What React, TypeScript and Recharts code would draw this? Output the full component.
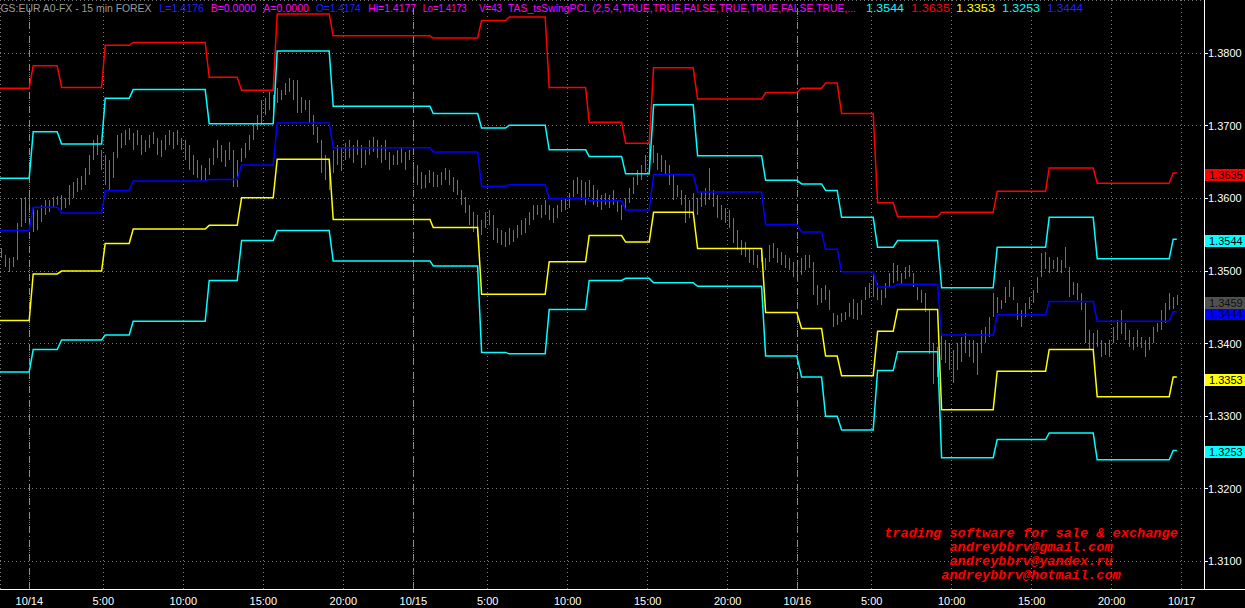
import React from 'react';
import { ComposedChart, Line, Bar, XAxis, YAxis, CartesianGrid, ReferenceLine } from 'recharts';

// x unit = one 15 min bar slot
const timeTicks = [7.33, 25.83, 45.83, 65.83, 85.83, 103.33, 121.92, 141.92, 161.92, 181.92, 199.33, 217.92, 237.92, 257.92, 277.92, 295.42];
const timeLabels = ['10/14', '5:00', '10:00', '15:00', '20:00', '10/15', '5:00', '10:00', '15:00', '20:00', '10/16', '5:00', '10:00', '15:00', '20:00', '10/17'];
const daySeparators = [7.33, 103.33, 199.33];
const priceTicks = [1.31, 1.32, 1.33, 1.34, 1.35, 1.36, 1.37, 1.38];

// swing channel lines, [bar, price]
const upperRed = [
  [0, 1.3752], [7.3, 1.3752], [8.3, 1.3783], [14.3, 1.3783], [15.4, 1.3753], [25.4, 1.3753], [26.3, 1.3811], [32.3, 1.3811],
  [33.3, 1.3815], [51.3, 1.3815], [52.3, 1.3767], [59.3, 1.3767], [60.4, 1.3749], [68.3, 1.3749], [69.3, 1.3854], [82.3, 1.3854],
  [83.3, 1.3824], [107.5, 1.3824], [108.3, 1.3821], [119.4, 1.3821], [120.4, 1.3845], [126.4, 1.3845], [127.3, 1.385], [136.3, 1.385],
  [137.3, 1.3753], [146.4, 1.3753], [147.3, 1.3705], [155.4, 1.3705], [156.4, 1.3676], [162.3, 1.3676], [163.4, 1.378], [173.3, 1.378],
  [174.4, 1.3737], [190.4, 1.3737], [191.4, 1.3746], [199.2, 1.3746], [200.4, 1.3752], [205.4, 1.3752], [206.4, 1.3759], [209.3, 1.3759],
  [210.4, 1.3717], [218.3, 1.3717], [219.4, 1.3594], [223.3, 1.3594], [224.4, 1.3575], [234.4, 1.3575], [235.4, 1.3581], [248.3, 1.3581],
  [249.3, 1.361], [261.4, 1.361], [262.3, 1.3642], [273.3, 1.3642], [274.3, 1.3621], [292.3, 1.3621], [293.3, 1.3635], [294.2, 1.3635],
];
const upperCyan = [
  [0, 1.3628], [7.3, 1.3628], [8.3, 1.3692], [14.3, 1.3692], [15.4, 1.3675], [25.4, 1.3675], [26.3, 1.3738], [32.3, 1.3738],
  [33.3, 1.375], [51.3, 1.375], [52.3, 1.3703], [68.3, 1.3703], [69.3, 1.3803], [82.3, 1.3803], [83.3, 1.3727], [107.5, 1.3727],
  [108.3, 1.3717], [119.4, 1.3717], [120.4, 1.3697], [126.4, 1.3697], [127.3, 1.3701], [136.3, 1.3701], [137.3, 1.3667], [146.4, 1.3667],
  [147.3, 1.3658], [155.4, 1.3658], [156.4, 1.3634], [162.3, 1.3634], [163.4, 1.3729], [173.3, 1.3729], [174.4, 1.3659], [190.4, 1.3659],
  [191.4, 1.3625], [199.2, 1.3625], [200.4, 1.362], [205.4, 1.362], [206.4, 1.3611], [209.3, 1.3611], [210.4, 1.3574], [218.3, 1.3574],
  [219.4, 1.3533], [223.3, 1.3533], [224.4, 1.3542], [234.4, 1.3542], [235.4, 1.3477], [248.3, 1.3477], [249.3, 1.3533], [261.4, 1.3533],
  [262.3, 1.3574], [273.3, 1.3574], [274.3, 1.3517], [292.3, 1.3517], [293.3, 1.3544], [294.2, 1.3544],
];
const pivotBlue = [
  [0, 1.3556], [7.3, 1.3556], [8.3, 1.3588], [14.3, 1.3588], [15.4, 1.358], [25.4, 1.358], [26.3, 1.3611], [32.3, 1.3611],
  [33.3, 1.3624], [51.3, 1.3624], [52.3, 1.3626], [59.3, 1.3626], [60.4, 1.3646], [68.3, 1.3646], [69.3, 1.3704], [82.3, 1.3704],
  [83.3, 1.367], [107.5, 1.367], [108.3, 1.3664], [119.4, 1.3664], [120.4, 1.3617], [126.4, 1.3617], [127.3, 1.3619], [136.3, 1.3619],
  [137.3, 1.36], [146.4, 1.36], [147.3, 1.3597], [155.4, 1.3597], [156.4, 1.3584], [162.3, 1.3584], [163.4, 1.3633], [173.3, 1.3633],
  [174.4, 1.3609], [190.4, 1.3609], [191.4, 1.3564], [199.2, 1.3564], [200.4, 1.3554], [205.4, 1.3554], [206.4, 1.353], [209.3, 1.353],
  [210.4, 1.3499], [218.3, 1.3499], [219.4, 1.3478], [223.3, 1.3478], [224.4, 1.3482], [234.4, 1.3482], [235.4, 1.3412], [248.3, 1.3412],
  [249.3, 1.344], [261.4, 1.344], [262.3, 1.3458], [273.3, 1.3458], [274.3, 1.3431], [292.3, 1.3431], [293.3, 1.3444], [294.2, 1.3444],
];
const lowerYellow = [
  [0, 1.3432], [7.3, 1.3432], [8.3, 1.3496], [14.3, 1.3496], [15.4, 1.35], [25.4, 1.35], [26.3, 1.3538], [32.3, 1.3538],
  [33.3, 1.3558], [51.3, 1.3558], [52.3, 1.3563], [59.3, 1.3563], [60.4, 1.3601], [68.3, 1.3601], [69.3, 1.3654], [82.3, 1.3654],
  [83.3, 1.3571], [107.5, 1.3571], [108.3, 1.356], [119.4, 1.356], [120.4, 1.3468], [136.3, 1.3468], [137.3, 1.3513], [146.4, 1.3513],
  [147.3, 1.3549], [155.4, 1.3549], [156.4, 1.354], [162.3, 1.354], [163.4, 1.3581], [173.3, 1.3581], [174.4, 1.3531], [190.4, 1.3531],
  [191.4, 1.3443], [199.2, 1.3443], [200.4, 1.3421], [205.4, 1.3421], [206.4, 1.3383], [209.3, 1.3383], [210.4, 1.3356], [218.3, 1.3356],
  [219.4, 1.3417], [223.3, 1.3417], [224.4, 1.3447], [234.4, 1.3447], [235.4, 1.3309], [248.3, 1.3309], [249.3, 1.3362], [261.4, 1.3362],
  [262.3, 1.3392], [273.3, 1.3392], [274.3, 1.3327], [292.3, 1.3327], [293.3, 1.3354], [294.2, 1.3354],
];
const lowerCyan = [
  [0, 1.3361], [7.3, 1.3361], [8.3, 1.3392], [14.3, 1.3392], [15.4, 1.3405], [25.4, 1.3405], [26.3, 1.3412], [32.3, 1.3412],
  [33.3, 1.3431], [51.3, 1.3431], [52.3, 1.3487], [59.3, 1.3487], [60.4, 1.3542], [68.3, 1.3542], [69.3, 1.3556], [82.3, 1.3556],
  [83.3, 1.3514], [107.5, 1.3514], [108.3, 1.3507], [119.4, 1.3507], [120.4, 1.3388], [126.4, 1.3388], [127.3, 1.3386], [136.3, 1.3386],
  [137.3, 1.3447], [146.4, 1.3447], [147.3, 1.3487], [155.4, 1.3487], [156.4, 1.349], [162.3, 1.349], [163.4, 1.3484], [173.3, 1.3484],
  [174.4, 1.3479], [190.4, 1.3479], [191.4, 1.3383], [199.2, 1.3383], [200.4, 1.3354], [205.4, 1.3354], [206.4, 1.33], [209.3, 1.33],
  [210.4, 1.3281], [218.3, 1.3281], [219.4, 1.3363], [223.3, 1.3363], [224.4, 1.3389], [234.4, 1.3389], [235.4, 1.3243], [248.3, 1.3243],
  [249.3, 1.3268], [261.4, 1.3268], [262.3, 1.3277], [273.3, 1.3277], [274.3, 1.324], [292.3, 1.324], [293.3, 1.3253], [294.2, 1.3253],
];

// 15 min bars, [low, high]
const barLowHigh = [
  [1.3518, 1.3532], [1.3506, 1.3522], [1.3499, 1.3518], [1.3506, 1.352], [1.3515, 1.3566], [1.3561, 1.3601], [1.3566, 1.3602], [1.3581, 1.3602], [1.3554, 1.3588], [1.3557, 1.3584],
  [1.3568, 1.3591], [1.3577, 1.3598], [1.3581, 1.3598], [1.3587, 1.3602], [1.359, 1.3603], [1.3584, 1.3605], [1.3587, 1.3601], [1.3591, 1.3618], [1.3601, 1.3623], [1.3609, 1.3628],
  [1.3612, 1.3631], [1.3619, 1.3642], [1.3633, 1.366], [1.3653, 1.368], [1.366, 1.3687], [1.3639, 1.3667], [1.3619, 1.366], [1.3612, 1.3653], [1.3628, 1.3664], [1.3656, 1.3687],
  [1.3669, 1.369], [1.3674, 1.3694], [1.3681, 1.3697], [1.3667, 1.369], [1.3674, 1.3694], [1.366, 1.3687], [1.3664, 1.3681], [1.3669, 1.3687], [1.3674, 1.3691], [1.366, 1.3684],
  [1.3656, 1.368], [1.3667, 1.3687], [1.3674, 1.3694], [1.3667, 1.3691], [1.3674, 1.3694], [1.3667, 1.3683], [1.3653, 1.368], [1.3639, 1.3674], [1.3633, 1.366], [1.3628, 1.3653],
  [1.3625, 1.3646], [1.3625, 1.3642], [1.3633, 1.3656], [1.3646, 1.3669], [1.3656, 1.3681], [1.365, 1.3674], [1.3643, 1.3667], [1.3653, 1.3678], [1.3616, 1.3667], [1.3616, 1.3653],
  [1.365, 1.3669], [1.3656, 1.3676], [1.3667, 1.3687], [1.3681, 1.3704], [1.3694, 1.3715], [1.3701, 1.3736], [1.3715, 1.3739], [1.3722, 1.3747], [1.3719, 1.3743], [1.3731, 1.3752],
  [1.3736, 1.375], [1.3743, 1.3759], [1.3747, 1.3766], [1.3736, 1.3763], [1.3718, 1.3763], [1.3718, 1.374], [1.3722, 1.3736], [1.3704, 1.3736], [1.3687, 1.3715], [1.3677, 1.3699],
  [1.3635, 1.3681], [1.3625, 1.366], [1.3612, 1.3653], [1.3636, 1.3667], [1.3646, 1.3674], [1.3639, 1.367], [1.3653, 1.3676], [1.3656, 1.3681], [1.3649, 1.3674], [1.366, 1.3681],
  [1.3643, 1.3674], [1.3646, 1.3667], [1.366, 1.3681], [1.3664, 1.3685], [1.3656, 1.3681], [1.3649, 1.3674], [1.3653, 1.3681], [1.3639, 1.3664], [1.3646, 1.366], [1.3646, 1.3667],
  [1.365, 1.367], [1.3639, 1.3664], [1.3653, 1.3667], [1.3625, 1.3649], [1.3618, 1.3646], [1.3612, 1.3636], [1.3614, 1.3632], [1.3621, 1.3639], [1.3616, 1.3636], [1.3616, 1.3632],
  [1.3618, 1.3636], [1.3625, 1.3642], [1.3618, 1.3639], [1.3609, 1.3629], [1.3605, 1.3625], [1.3591, 1.3612], [1.358, 1.3602], [1.3563, 1.3591], [1.3553, 1.3581], [1.3547, 1.3577],
  [1.355, 1.357], [1.3559, 1.3581], [1.3563, 1.3584], [1.3543, 1.3577], [1.354, 1.356], [1.3536, 1.3557], [1.3533, 1.3554], [1.3536, 1.356], [1.354, 1.3557], [1.3546, 1.3564],
  [1.355, 1.357], [1.3553, 1.3573], [1.3563, 1.3581], [1.357, 1.3591], [1.3577, 1.3591], [1.3573, 1.3591], [1.3577, 1.3598], [1.357, 1.3591], [1.3567, 1.3587], [1.3573, 1.3591],
  [1.3581, 1.3598], [1.3584, 1.3601], [1.3588, 1.3608], [1.3602, 1.3625], [1.3605, 1.3629], [1.3598, 1.3625], [1.3591, 1.3623], [1.3602, 1.3625], [1.3591, 1.3618], [1.3588, 1.3612],
  [1.3584, 1.3605], [1.3591, 1.3608], [1.3587, 1.3605], [1.3591, 1.3612], [1.3581, 1.3598], [1.357, 1.3591], [1.3584, 1.3601], [1.3594, 1.3615], [1.3605, 1.3629], [1.3619, 1.3639],
  [1.3625, 1.3646], [1.3636, 1.366], [1.3646, 1.3677], [1.3649, 1.3674], [1.3639, 1.3663], [1.3636, 1.366], [1.3633, 1.3653], [1.3618, 1.3646], [1.3598, 1.3632], [1.3602, 1.3619],
  [1.3591, 1.3612], [1.3567, 1.3605], [1.3573, 1.3598], [1.3581, 1.3608], [1.3577, 1.3601], [1.3588, 1.3609], [1.3591, 1.3615], [1.3598, 1.3642], [1.3588, 1.3612], [1.3573, 1.3605],
  [1.357, 1.3591], [1.3567, 1.3587], [1.3559, 1.3584], [1.3539, 1.3573], [1.3529, 1.3557], [1.3522, 1.3543], [1.3519, 1.354], [1.3512, 1.3532], [1.3508, 1.3529], [1.3504, 1.3522],
  [1.3512, 1.3526], [1.3502, 1.3518], [1.3512, 1.3536], [1.3518, 1.3539], [1.3512, 1.3532], [1.3508, 1.3526], [1.3504, 1.3522], [1.3502, 1.3518], [1.3492, 1.3512], [1.3484, 1.3508],
  [1.3495, 1.3518], [1.3502, 1.3522], [1.3504, 1.3522], [1.3467, 1.3512], [1.3453, 1.3481], [1.3457, 1.3477], [1.346, 1.3481], [1.3447, 1.3474], [1.3423, 1.3442], [1.3426, 1.344],
  [1.343, 1.3442], [1.3433, 1.3444], [1.3437, 1.3456], [1.3435, 1.3462], [1.3433, 1.3456], [1.344, 1.346], [1.346, 1.3478], [1.3464, 1.3484], [1.3464, 1.3497], [1.346, 1.3484],
  [1.3453, 1.3474], [1.3463, 1.3484], [1.3478, 1.3497], [1.3484, 1.3511], [1.3486, 1.3508], [1.3481, 1.3497], [1.3488, 1.3505], [1.3492, 1.3508], [1.3478, 1.3497], [1.346, 1.3478],
  [1.3456, 1.3474], [1.3444, 1.347], [1.3387, 1.3447], [1.3345, 1.3401], [1.3354, 1.3395], [1.3378, 1.3415], [1.3374, 1.3405], [1.3364, 1.3401], [1.3345, 1.3391], [1.3364, 1.3401],
  [1.3374, 1.3409], [1.3387, 1.3415], [1.3382, 1.3405], [1.3374, 1.3405], [1.3357, 1.3401], [1.3387, 1.3419], [1.3401, 1.3423], [1.3409, 1.3437], [1.3437, 1.347], [1.3442, 1.3464],
  [1.3447, 1.346], [1.3456, 1.3478], [1.3465, 1.3488], [1.346, 1.3478], [1.3433, 1.3456], [1.3423, 1.3447], [1.3437, 1.3456], [1.3447, 1.3464], [1.3456, 1.3474], [1.347, 1.3492],
  [1.3492, 1.3525], [1.3502, 1.3526], [1.3497, 1.3519], [1.3502, 1.3515], [1.3499, 1.3519], [1.3497, 1.3515], [1.3504, 1.3533], [1.3464, 1.3505], [1.3467, 1.3485], [1.346, 1.3484],
  [1.3447, 1.347], [1.3401, 1.3456], [1.3391, 1.3419], [1.3387, 1.3415], [1.3396, 1.3419], [1.3382, 1.3405], [1.3385, 1.3401], [1.3382, 1.3405], [1.3401, 1.3423], [1.3405, 1.3433],
  [1.3414, 1.3447], [1.3405, 1.3428], [1.3396, 1.3419], [1.3391, 1.3409], [1.3396, 1.3419], [1.3394, 1.3409], [1.3382, 1.3405], [1.3391, 1.3409], [1.3401, 1.3423], [1.3415, 1.3428],
  [1.3419, 1.3447], [1.3428, 1.3456], [1.3447, 1.347], [1.3447, 1.3464], [1.3453, 1.3467],
];

// last-value tags on the price scale
const tagValues = [1.3635, 1.3544, 1.3444, 1.3459, 1.3353, 1.3253];
const tagColors = ['#ff0000', '#00ffff', '#0000ff', '#505050', '#ffff00', '#00ffff'];
const tagInk = ['#000', '#000', '#000030', '#111', '#000', '#000'];

const FONT = "'Liberation Sans', Arial, sans-serif";
const GRID = '#777777';

const toPoints = (pairs: number[][]) => pairs.map(([x, y]) => ({ x, y }));
const bars = barLowHigh.map(([lo, hi], i) => ({ x: i + 0.5, range: [lo, hi] }));

const OhlcStick = (props: any) => {
  const { x, y, width, height } = props;
  if (y == null || isNaN(y)) return null;
  return <rect x={Math.round(x + width / 2 - 0.5)} y={Math.round(y)} width={1} height={Math.max(1, Math.round(height))} fill="#707070" />;
};

const PriceTag = ({ viewBox, text, fill, ink }: any) => {
  if (!viewBox) return null;
  const left = viewBox.x + viewBox.width + 1;
  const cy = Math.round(viewBox.y);
  return (
    <g>
      <rect x={left} y={cy - 4} width={40} height={12} fill={fill} />
      <text x={left + 4} y={cy + 6} fill={ink} fontSize={11} fontFamily={FONT}>{text}</text>
    </g>
  );
};

const series = [
  { pts: upperRed, color: '#ff0000' },
  { pts: upperCyan, color: '#00ffff' },
  { pts: pivotBlue, color: '#0000ff' },
  { pts: lowerYellow, color: '#ffff00' },
  { pts: lowerCyan, color: '#00ffff' },
];

export default function App() {
  return (
    <div style={{ position: 'absolute', left: 0, top: 0, width: 1245, height: 608, background: '#000', overflow: 'hidden' }}>
      <style>{`body{margin:0;background:#000}
        .recharts-cartesian-grid line, .recharts-reference-line line, .recharts-cartesian-axis-tick-line { shape-rendering: crispEdges; }`}</style>
      <ComposedChart width={1245} height={608} data={bars} margin={{ top: 0, right: 0, bottom: 0, left: 0 }}>
        <CartesianGrid stroke={GRID} strokeDasharray="1 3" />
        <XAxis
          dataKey="x"
          type="number"
          domain={[0, 301]}
          allowDataOverflow
          ticks={timeTicks}
          interval={0}
          tickFormatter={(v: number) => timeLabels[timeTicks.indexOf(v)] ?? ''}
          height={19}
          axisLine={false}
          tickLine={false}
          tickSize={6}
          tickMargin={2}
          tick={{ fill: '#fff', fontSize: 11, fontFamily: FONT }}
        />
        <YAxis
          orientation="right"
          type="number"
          domain={[1.30621, 1.38734]}
          allowDataOverflow
          ticks={priceTicks}
          interval={0}
          width={41}
          tickFormatter={(v: number) => v.toFixed(4)}
          axisLine={false}
          tickLine={{ stroke: '#fff' }}
          tickSize={4}
          tickMargin={0}
          tick={{ fill: '#fff', fontSize: 11, fontFamily: FONT }}
        />
        {daySeparators.map((d) => (
          <ReferenceLine key={d} x={d} stroke="#8c8c8c" strokeDasharray="7 3 1 3" />
        ))}
        <Bar dataKey="range" barSize={1} fill="#707070" shape={OhlcStick} isAnimationActive={false} />
        {series.map((s, i) => (
          <Line
            key={i}
            data={toPoints(s.pts)}
            dataKey="y"
            type="linear"
            stroke={s.color}
            strokeWidth={1.5}
            dot={false}
            activeDot={false}
            isAnimationActive={false}
          />
        ))}
        {tagValues.map((v, i) => (
          <ReferenceLine
            key={'tag' + i}
            y={v}
            stroke="none"
            label={(p: any) => <PriceTag viewBox={p.viewBox} text={v.toFixed(4)} fill={tagColors[i]} ink={tagInk[i]} />}
          />
        ))}
      </ComposedChart>
      <svg width={1245} height={608} style={{ position: 'absolute', left: 0, top: 0, pointerEvents: 'none' }}>
        <line x1={1204.5} y1={0} x2={1204.5} y2={589} stroke="#fff" strokeWidth={1} />
        <line x1={0} y1={589.5} x2={1245} y2={589.5} stroke="#fff" strokeWidth={1} />
        <g fontFamily={FONT} fontSize={11} style={{ whiteSpace: 'pre' }}>
          <text x={0.5} y={11.5} fill="#9a9a9a" textLength={151} lengthAdjust="spacingAndGlyphs">GS:EUR A0-FX - 15 min  FOREX</text>
          <text x={159.3} y={11.5} fill="#2020ff" textLength={44.7} lengthAdjust="spacingAndGlyphs">L=1.4176</text>
          <text x={210.7} y={11.5} fill="#ff00ff" textLength={45.3} lengthAdjust="spacingAndGlyphs">B=0.0000</text>
          <text x={263.3} y={11.5} fill="#ff00ff" textLength={45.7} lengthAdjust="spacingAndGlyphs">A=0.0000</text>
          <text x={316} y={11.5} fill="#2020ff" textLength={44.7} lengthAdjust="spacingAndGlyphs">O=1.4174</text>
          <text x={368.3} y={11.5} fill="#ff00ff" textLength={47.7} lengthAdjust="spacingAndGlyphs">Hi=1.4177</text>
          <text x={422.7} y={11.5} fill="#ff00ff" textLength={44} lengthAdjust="spacingAndGlyphs">Lo=1.4173</text>
          <text x={479} y={11.5} fill="#ff00ff" textLength={23} lengthAdjust="spacingAndGlyphs">V=43</text>
          <text x={508} y={11.5} fill="#ff00ff" fontSize={10} textLength={348} lengthAdjust="spacingAndGlyphs">TAS_tsSwingPCL (2,5,4,TRUE,TRUE,FALSE,TRUE,TRUE,FALSE,TRUE,...</text>
          <text x={866} y={11.5} fill="#00ffff" textLength={38} lengthAdjust="spacingAndGlyphs">1.3544</text>
          <text x={911} y={11.5} fill="#ff0000" textLength={39} lengthAdjust="spacingAndGlyphs">1.3635</text>
          <text x={956} y={11.5} fill="#ffff00" textLength={39} lengthAdjust="spacingAndGlyphs">1.3353</text>
          <text x={1002} y={11.5} fill="#00ffff" textLength={38} lengthAdjust="spacingAndGlyphs">1.3253</text>
          <text x={1047} y={11.5} fill="#2020ff" textLength={36} lengthAdjust="spacingAndGlyphs">1.3444</text>
        </g>
        <g fontFamily="'Liberation Mono', 'Courier New', monospace" fontSize={13.6} fontWeight="bold" fontStyle="italic" fill="#ff0000" textAnchor="middle">
          <text x={1031} y={536.7}>trading software for sale &amp; exchange</text>
          <text x={1031} y={550.7}>andreybbrv@gmail.com</text>
          <text x={1031} y={565}>andreybbrv@yandex.ru</text>
          <text x={1031} y={579.3}>andreybbrv@hotmail.com</text>
        </g>
      </svg>
    </div>
  );
}
